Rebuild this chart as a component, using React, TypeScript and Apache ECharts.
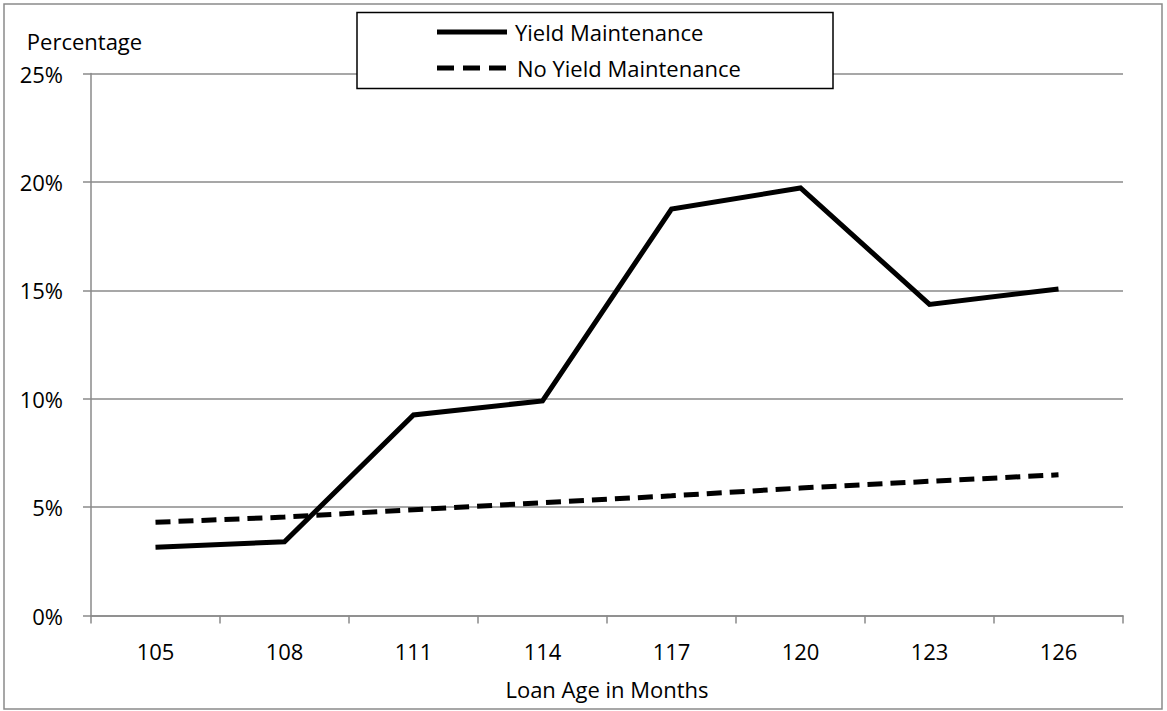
import React, { useEffect, useRef } from "react";
import * as echarts from "echarts";

// Loan age buckets (months) and prepayment percentages
const loanAges = ["105", "108", "111", "114", "117", "120", "123", "126"];
const yieldMaintenance = [3.15, 3.4, 9.25, 9.9, 18.75, 19.72, 14.35, 15.06];
const noYieldMaintenance = [4.3, 4.54, 4.88, 5.2, 5.52, 5.88, 6.19, 6.49];
const yTicks = { min: 0, max: 25, interval: 5 };
const seriesNames = ["Yield Maintenance", "No Yield Maintenance"];

const FONT = "'Open Sans', Lato, sans-serif";
const FS = 22;
const GRAY = "#8a8a8a";
const DASH = [15, 8];
const LEGEND_Z = 20;

export default function App() {
  const ref = useRef<HTMLDivElement>(null);

  useEffect(() => {
    if (!ref.current) return;
    const chart = echarts.init(ref.current, undefined, { renderer: "svg" });
    chart.setOption({
      animation: false,
      backgroundColor: "#ffffff",
      textStyle: { fontFamily: FONT, color: "#000" },
      grid: { left: 91, right: 44, top: 73.5, bottom: 95.5 },
      graphic: [
        {
          type: "rect",
          z: 0,
          shape: { x: 4, y: 4, width: 1158, height: 705 },
          style: { fill: "none", stroke: GRAY, lineWidth: 1.5 },
        },
        // legend box
        {
          type: "rect",
          z: LEGEND_Z,
          shape: { x: 357, y: 12.5, width: 476, height: 76 },
          style: { fill: "#ffffff", stroke: "#000", lineWidth: 1.5 },
        },
        {
          type: "line",
          z: LEGEND_Z + 1,
          shape: { x1: 437, y1: 32, x2: 507, y2: 32 },
          style: { stroke: "#000", lineWidth: 5 },
        },
        {
          type: "text",
          z: LEGEND_Z + 1,
          x: 515,
          y: 32,
          style: {
            text: seriesNames[0],
            fontFamily: FONT,
            fontSize: FS,
            fill: "#000",
            verticalAlign: "middle",
            align: "left",
          },
        },
        {
          type: "line",
          z: LEGEND_Z + 1,
          shape: { x1: 437, y1: 68, x2: 507, y2: 68 },
          style: { stroke: "#000", lineWidth: 5, lineDash: [17, 9] },
        },
        {
          type: "text",
          z: LEGEND_Z + 1,
          x: 517,
          y: 68,
          style: {
            text: seriesNames[1],
            fontFamily: FONT,
            fontSize: FS,
            fill: "#000",
            verticalAlign: "middle",
            align: "left",
          },
        },
      ],
      xAxis: {
        type: "category",
        data: loanAges,
        boundaryGap: true,
        name: "Loan Age in Months",
        nameLocation: "middle",
        nameGap: 62,
        nameTextStyle: { fontFamily: FONT, fontSize: FS, color: "#000" },
        axisLine: { lineStyle: { color: GRAY, width: 1.5 } },
        axisTick: { show: true, length: 8, inside: false, lineStyle: { color: GRAY, width: 1.5 } },
        axisLabel: { fontFamily: FONT, fontSize: FS, color: "#000", margin: 24 },
        splitLine: { show: false },
      },
      yAxis: {
        type: "value",
        min: yTicks.min,
        max: yTicks.max,
        interval: yTicks.interval,
        name: "Percentage",
        nameLocation: "end",
        nameGap: 22,
        nameTextStyle: { fontFamily: FONT, fontSize: FS, color: "#000", padding: [0, 13, 0, 0] },
        axisLine: { show: true, lineStyle: { color: GRAY, width: 1.5 } },
        axisTick: { show: true, length: 8, lineStyle: { color: GRAY, width: 1.5 } },
        axisLabel: { fontFamily: FONT, fontSize: FS, color: "#000", margin: 28, formatter: "{value}%" },
        splitLine: { show: true, lineStyle: { color: GRAY, width: 1.5 } },
      },
      series: [
        {
          name: seriesNames[0],
          type: "line",
          data: yieldMaintenance,
          symbol: "none",
          z: 2,
          lineStyle: { color: "#000", width: 5, join: "miter" },
          itemStyle: { color: "#000" },
        },
        {
          name: seriesNames[1],
          type: "line",
          data: noYieldMaintenance,
          symbol: "none",
          z: 2,
          lineStyle: { color: "#000", width: 5, type: DASH },
          itemStyle: { color: "#000" },
        },
      ],
    });
    return () => chart.dispose();
  }, []);

  return (
    <div
      ref={ref}
      style={{ position: "absolute", left: 0, top: 0, width: 1167, height: 711 }}
    />
  );
}
